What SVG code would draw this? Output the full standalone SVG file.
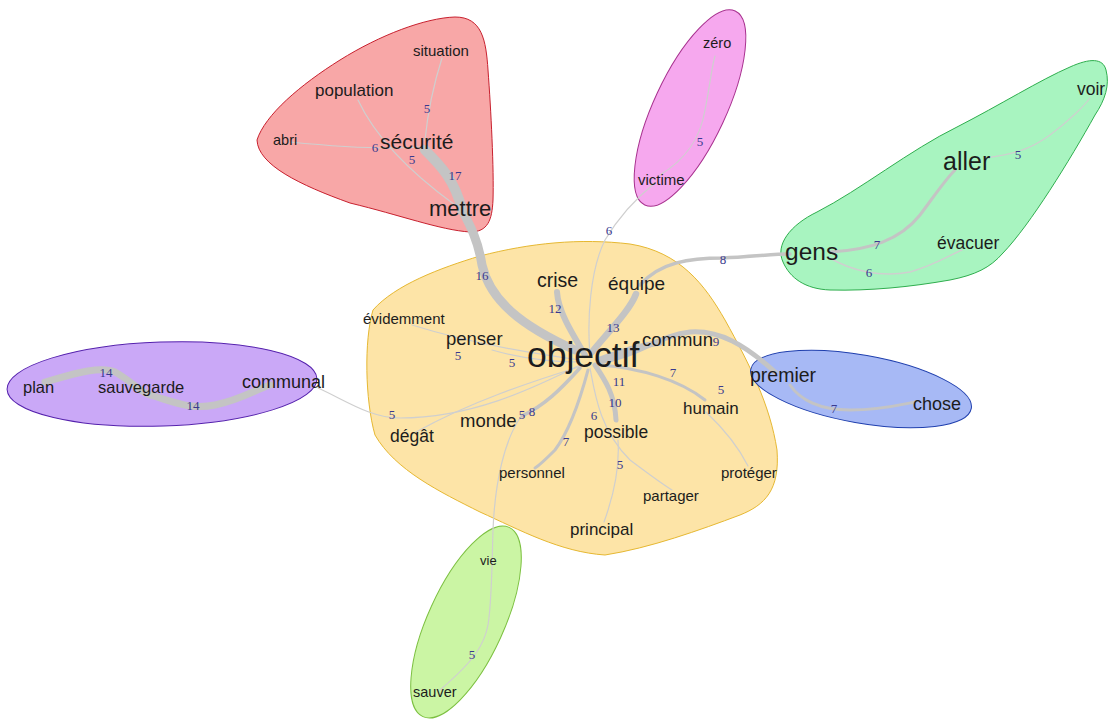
<svg xmlns="http://www.w3.org/2000/svg" width="1116" height="723" viewBox="0 0 1116 723">
<style>
.n{font-family:"Liberation Sans",Arial,sans-serif;fill:#1c1c1c}
.e{fill:none;stroke:#c4c4c4;stroke-linecap:round}
.t{stroke:#cfcfcf;stroke-width:1.2}
.w{font-family:"Liberation Serif","Times New Roman",serif;font-size:13px;fill:#3a3a8e;text-anchor:middle}
</style>
<rect width="1116" height="723" fill="#ffffff"/>
<g id="clusters">
<path id="c-yellow" d="M373,310 C395,285 440,268 480,256 C530,243 580,238 630,244 C680,252 705,285 725,320 C750,365 770,405 777,450 C780,490 765,505 740,515 C700,530 650,548 605,555 C560,552 520,530 480,512 C440,492 395,470 375,435 C365,400 364,340 373,310 Z" fill="#fde4a7" stroke="#e6b832" stroke-width="1"/>
<path id="c-red" d="M257,140 C265,115 300,85 340,60 C380,35 425,18 455,17 C482,17 486,40 488,70 C491,110 494,170 493,200 C492,220 488,232 470,232 C440,230 400,215 350,203 C300,185 258,165 257,140 Z" fill="#f8a7a7" stroke="#c8202e" stroke-width="1"/>
<ellipse id="c-pink" cx="690" cy="108" rx="107" ry="36" transform="rotate(-65 690 108)" fill="#f6a8ee" stroke="#a8308f" stroke-width="1"/>
<path id="c-green" d="M783,262 C775,245 790,225 817,212 C860,190 910,150 957,127 C1000,105 1040,80 1070,67 C1090,58 1103,58 1106,70 C1110,85 1105,100 1095,115 C1070,160 1030,225 1003,253 C990,268 975,275 950,280 C910,287 870,291 830,290 C805,289 790,278 783,262 Z" fill="#a8f4c0" stroke="#2fae4e" stroke-width="1"/>
<ellipse id="c-purple" cx="162" cy="384" rx="155" ry="42" transform="rotate(-2 162 384)" fill="#caa8f7" stroke="#5420ad" stroke-width="1"/>
<ellipse id="c-blue" cx="861" cy="389" rx="112" ry="34" transform="rotate(10 861 389)" fill="#a7b9f5" stroke="#1f3fae" stroke-width="1"/>
<ellipse id="c-lime" cx="466" cy="622" rx="104" ry="38" transform="rotate(-65.5 466 622)" fill="#cbf5a4" stroke="#7cc040" stroke-width="1"/>
</g>
<g id="connectors">
<path class="e t" d="M412,325 C460,340 520,352 580,360"/>
<path class="e t" d="M492,350 C520,358 550,362 580,362"/>
<path class="e t" d="M580,365 C530,390 470,418 400,418 C370,418 345,400 318,388"/>
<path class="e t" d="M582,366 C530,382 470,402 416,432"/>
<path class="e t" d="M520,418 C505,440 495,480 493,530 C492,560 492,600 488,625 C484,645 475,660 440,690"/>
<path class="e t" d="M590,355 C587,320 590,270 605,240 C620,215 640,195 655,183"/>
<path class="e t" d="M660,175 C685,160 700,140 705,110 C710,85 712,65 715,56"/>
<path class="e t" d="M590,368 C595,395 600,430 630,460 C650,475 662,484 672,490"/>
<path class="e t" d="M618,440 C620,470 612,500 604,522"/>
<path class="e t" d="M706,412 C725,430 740,450 748,466"/>
<path class="e t" d="M420,147 C380,150 330,146 290,142"/>
<path class="e t" d="M425,140 C428,110 435,80 442,58"/>
<path class="e t" d="M358,100 C372,130 400,165 455,205"/>
<path class="e t" d="M985,158 C1010,155 1030,150 1050,135 C1070,120 1085,105 1090,98"/>
<path class="e t" d="M830,258 C850,270 880,278 910,272 C935,265 950,255 962,250" style="stroke-width:1.5"/>
<path class="e" d="M575,350 C520,325 490,300 482,265 C478,240 470,225 462,210" stroke-width="9"/>
<path class="e" d="M462,210 C455,180 440,165 425,150" stroke-width="10"/>
<path class="e" d="M585,355 C570,330 558,310 557,292" stroke-width="6"/>
<path class="e" d="M592,352 C610,330 630,310 636,294" stroke-width="6.5"/>
<path class="e" d="M640,285 C660,262 690,258 723,258 C750,257 770,254 790,254" stroke-width="3.5"/>
<path class="e" d="M600,362 C640,355 660,335 690,332 C720,330 745,345 775,372" stroke-width="5"/>
<path class="e" d="M598,360 C620,352 640,345 660,343" stroke-width="5.5"/>
<path class="e" d="M600,365 C640,368 680,380 705,400" stroke-width="3"/>
<path class="e" d="M595,365 C605,380 615,395 616,420" stroke-width="5"/>
<path class="e" d="M588,370 C580,400 570,430 555,450 C545,460 540,465 535,468" stroke-width="3"/>
<path class="e" d="M580,368 C560,390 545,405 522,416" stroke-width="3.5"/>
<path class="e" d="M830,252 C870,250 900,240 920,215 C935,195 945,180 955,170" stroke-width="3"/>
<path class="e" d="M45,382 C70,375 100,365 115,372 C130,380 140,392 150,395" stroke-width="7"/>
<path class="e" d="M150,395 C175,402 190,410 215,405 C240,400 255,390 270,385" stroke-width="7"/>
<path class="e" d="M790,385 C800,400 820,410 850,410 C880,410 900,405 915,402" stroke-width="3"/>
<text class="w" x="375" y="152">6</text>
<text class="w" x="427" y="113">5</text>
<text class="w" x="412" y="164">5</text>
<text class="w" x="455" y="180">17</text>
<text class="w" x="482" y="280">16</text>
<text class="w" x="555" y="313">12</text>
<text class="w" x="613" y="332">13</text>
<text class="w" x="619" y="386">11</text>
<text class="w" x="716" y="346">9</text>
<text class="w" x="673" y="377">7</text>
<text class="w" x="721" y="394">5</text>
<text class="w" x="615" y="407">10</text>
<text class="w" x="594" y="420">6</text>
<text class="w" x="620" y="469">5</text>
<text class="w" x="566" y="446">7</text>
<text class="w" x="532" y="416">8</text>
<text class="w" x="522" y="419">5</text>
<text class="w" x="458" y="360">5</text>
<text class="w" x="512" y="367">5</text>
<text class="w" x="392" y="419">5</text>
<text class="w" x="609" y="235">6</text>
<text class="w" x="700" y="146">5</text>
<text class="w" x="723" y="264">8</text>
<text class="w" x="877" y="249">7</text>
<text class="w" x="869" y="277">6</text>
<text class="w" x="1018" y="159">5</text>
<text class="w" x="106" y="377">14</text>
<text class="w" x="193" y="410">14</text>
<text class="w" x="834" y="413">7</text>
<text class="w" x="472" y="659">5</text>
</g>
<g id="n-situation"><text class="n" x="413" y="56" font-size="15">situation</text></g>
<g id="n-population"><text class="n" x="315" y="96" font-size="17">population</text></g>
<g id="n-abri"><text class="n" x="273" y="145" font-size="14.5">abri</text></g>
<g id="n-securite"><text class="n" x="380" y="149" font-size="21">sécurité</text></g>
<g id="n-mettre"><text class="n" x="429" y="216" font-size="22">mettre</text></g>
<g id="n-zero"><text class="n" x="703" y="48" font-size="14.5">zéro</text></g>
<g id="n-victime"><text class="n" x="638" y="185" font-size="15">victime</text></g>
<g id="n-voir"><text class="n" x="1077" y="95" font-size="17.5">voir</text></g>
<g id="n-aller"><text class="n" x="943" y="170" font-size="25">aller</text></g>
<g id="n-gens"><text class="n" x="785" y="260" font-size="24.5">gens</text></g>
<g id="n-evacuer"><text class="n" x="937" y="249" font-size="17.5">évacuer</text></g>
<g id="n-crise"><text class="n" x="537" y="287" font-size="19.5">crise</text></g>
<g id="n-equipe"><text class="n" x="608" y="290" font-size="19">équipe</text></g>
<g id="n-evidemment"><text class="n" x="363" y="324" font-size="15">évidemment</text></g>
<g id="n-penser"><text class="n" x="446" y="345" font-size="18.5">penser</text></g>
<g id="n-objectif"><text class="n" x="527" y="367" font-size="35.5" fill="#000">objectif</text></g>
<g id="n-commun"><text class="n" x="642" y="346" font-size="18.5">commun</text></g>
<g id="n-premier"><text class="n" x="750" y="382" font-size="19.5">premier</text></g>
<g id="n-chose"><text class="n" x="913" y="410" font-size="18">chose</text></g>
<g id="n-humain"><text class="n" x="683" y="414" font-size="17">humain</text></g>
<g id="n-monde"><text class="n" x="460" y="427" font-size="18.5">monde</text></g>
<g id="n-degat"><text class="n" x="390" y="442" font-size="17.5">dégât</text></g>
<g id="n-possible"><text class="n" x="584" y="438" font-size="17.5">possible</text></g>
<g id="n-personnel"><text class="n" x="499" y="478" font-size="15">personnel</text></g>
<g id="n-partager"><text class="n" x="643" y="501" font-size="15">partager</text></g>
<g id="n-proteger"><text class="n" x="721" y="478" font-size="15">protéger</text></g>
<g id="n-principal"><text class="n" x="570" y="535" font-size="17">principal</text></g>
<g id="n-plan"><text class="n" x="23" y="393" font-size="16.5">plan</text></g>
<g id="n-sauvegarde"><text class="n" x="98" y="393" font-size="16.5">sauvegarde</text></g>
<g id="n-communal"><text class="n" x="242" y="388" font-size="18">communal</text></g>
<g id="n-vie"><text class="n" x="480" y="565" font-size="13">vie</text></g>
<g id="n-sauver"><text class="n" x="413" y="697" font-size="14.5">sauver</text></g>
</svg>
